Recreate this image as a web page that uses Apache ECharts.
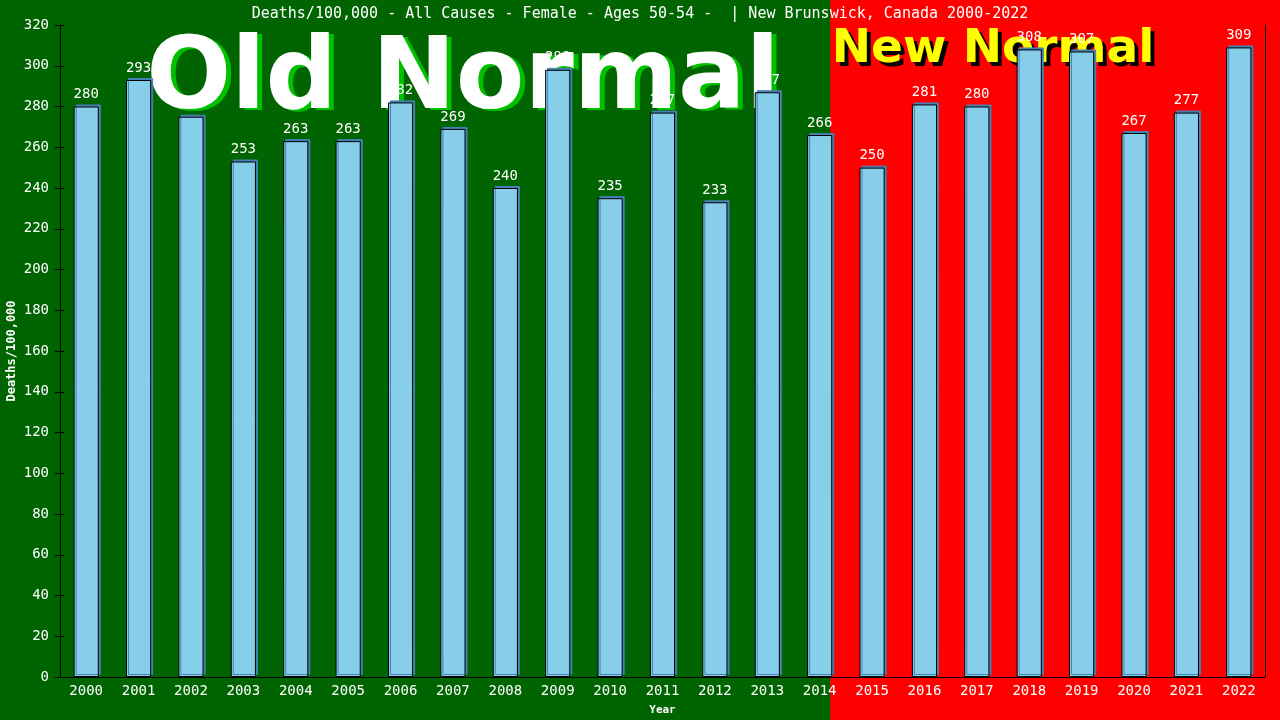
<!DOCTYPE html>
<html><head><meta charset="utf-8">
<script src="https://cdn.jsdelivr.net/npm/echarts@6/dist/echarts.min.js"></script>
<style>html,body{margin:0;padding:0;background:#006400}#c{width:1280px;height:720px}</style>
</head><body><div id="c"></div>
<script>
const years = ['2000','2001','2002','2003','2004','2005','2006','2007','2008','2009','2010','2011','2012','2013','2014','2015','2016','2017','2018','2019','2020','2021','2022'];
const deaths = [280,293,275,253,263,263,282,269,240,298,235,277,233,287,266,250,281,280,308,307,267,277,309];
const yTicks = {min:0, max:320, interval:20};
const splitYear = '2014';
const titleText = 'Deaths/100,000 - All Causes - Female - Ages 50-54 -  | New Brunswick, Canada 2000-2022';

const chart = echarts.init(document.getElementById('c'));
const mono = 'DejaVu Sans Mono';
const G = {left:60,right:15,top:25,bottom:43};
chart.setOption({
  backgroundColor:'#006400',
  animation:false,
  title:{text:titleText,left:'center',top:2,textStyle:{color:'#fff',fontFamily:mono,fontSize:15,fontWeight:'normal'}},
  grid:{left:G.left,right:G.right,top:G.top,bottom:G.bottom,containLabel:false,outerBoundsMode:'none'},
  xAxis:{type:'category',data:years,z:3,
    name:'Year',nameLocation:'middle',nameGap:28,nameMoveOverlap:false,
    nameTextStyle:{color:'#fff',fontFamily:mono,fontSize:11,fontWeight:'bold'},
    axisLine:{lineStyle:{color:'#000',width:1}},axisTick:{show:false},
    axisLabel:{color:'#fff',fontFamily:mono,fontSize:14,margin:7}},
  yAxis:[{type:'value',min:yTicks.min,max:yTicks.max,interval:yTicks.interval,z:3,
    name:'Deaths/100,000',nameLocation:'middle',nameGap:42,nameMoveOverlap:false,
    nameTextStyle:{color:'#fff',fontFamily:mono,fontSize:12,fontWeight:'bold'},
    axisLine:{show:true,lineStyle:{color:'#000'}},
    axisTick:{show:true,length:5,lineStyle:{color:'#000'}},
    splitLine:{show:false},
    axisLabel:{color:'#fff',fontFamily:mono,fontSize:14,margin:11}},
   {type:'value',position:'left',min:yTicks.min,max:yTicks.max,interval:yTicks.interval,z:3,
    axisLine:{show:false},axisTick:{show:true,inside:true,length:4,lineStyle:{color:'#000'}},axisLabel:{show:false},splitLine:{show:false}},
   {type:'value',position:'right',min:yTicks.min,max:yTicks.max,interval:yTicks.interval,z:3,
    axisLine:{show:true,lineStyle:{color:'#000'}},axisTick:{show:false},axisLabel:{show:false},splitLine:{show:false}}],
  series:[{type:'bar',data:deaths,barWidth:'48%',z:5,
    itemStyle:{color:'#87CEEB',borderColor:'#000',borderWidth:1,shadowColor:'#4682B4',shadowOffsetX:2,shadowOffsetY:-2,shadowBlur:0},
    label:{show:true,position:'top',distance:5,color:'#fff',fontFamily:mono,fontSize:14}}]
});
const cx = chart.convertToPixel({xAxisIndex:0}, splitYear);
const band = (chart.getWidth() - G.left - G.right)/years.length;
const splitX = cx + band*0.2;
function txt(s, x, y, fill, font, z){
  return {type:'text',z:z,x:x,y:y,style:{text:s,fill:fill,font:font,textAlign:'center',textVerticalAlign:'middle'}};
}
const oldFont = 'bold 100px "DejaVu Sans"';
const newFont = 'bold 47px "DejaVu Sans"';
chart.setOption({graphic:[
  {type:'rect',z:0,shape:{x:splitX,y:0,width:chart.getWidth()-splitX,height:chart.getHeight()},style:{fill:'#ff0000'}},
  txt('Old Normal',468,84,'#00c000',oldFont,1),
  txt('Old Normal',463,82,'#ffffff',oldFont,2),
  txt('New Normal',997,54,'#000000',newFont,1),
  txt('New Normal',993,50,'#ffff00',newFont,2)
]});
</script></body></html>
